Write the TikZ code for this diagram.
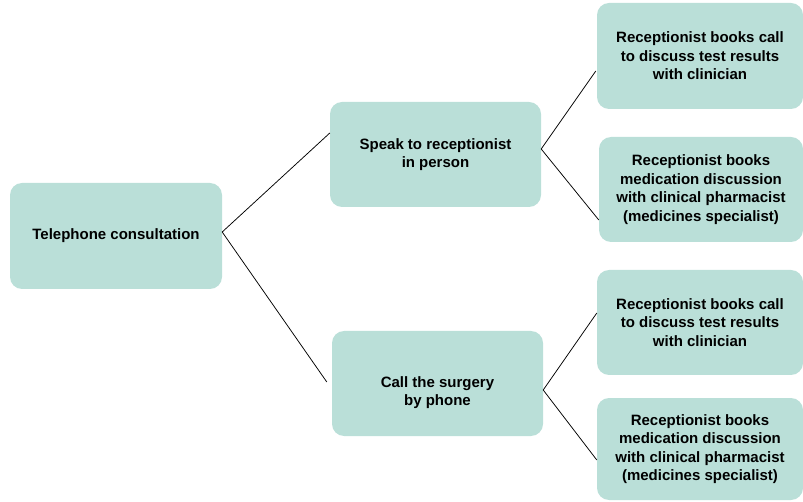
\documentclass[tikz,border=0pt]{standalone}
\usepackage{fontspec}
\setmainfont{Liberation Sans}
\definecolor{boxgreen}{RGB}{186,223,216}
\begin{document}
\begin{tikzpicture}[x=1pt,y=-1pt,
  stage/.style={fill=boxgreen,rounded corners=12pt,align=center,inner sep=0pt,
    font=\bfseries\fontsize{15}{18.5}\selectfont},
  link/.style={draw=black,line width=0.75pt}]
\useasboundingbox (0,0) rectangle (803,502);
% first column
\node[stage,minimum width=212pt,minimum height=106pt] (tel) at (116,236) {Telephone consultation};
% second column
\node[stage,minimum width=211pt,minimum height=105pt] (spk) at (435.5,154.5) {Speak to receptionist\\in person};
\node[stage,minimum width=211pt,minimum height=105pt] (call) at (437.5,383.5) {\rule{0pt}{29pt}Call the surgery\\by phone};
% third column
\node[stage,minimum width=206pt,minimum height=106pt] (bookA) at (700,56) {Receptionist books call\\to discuss test results\\with clinician};
\node[stage,minimum width=204pt,minimum height=105pt] (medA) at (701,189.5) {Receptionist books\\medication discussion\\with clinical pharmacist\\(medicines specialist)};
\node[stage,minimum width=206pt,minimum height=105pt] (bookB) at (700,322.5) {Receptionist books call\\to discuss test results\\with clinician};
\node[stage,minimum width=206pt,minimum height=102pt] (medB) at (700,449) {Receptionist books\\medication discussion\\with clinical pharmacist\\(medicines specialist)};
% connectors
\draw[link] ([yshift=4pt]tel.east) -- ([yshift=21.5pt]spk.west);
\draw[link] ([yshift=4pt]tel.east) -- ([xshift=-5pt,yshift=1.5pt]call.west);
\draw[link] ([yshift=5.5pt]spk.east) -- ([xshift=-1pt,yshift=-15pt]bookA.west);
\draw[link] ([yshift=5.5pt]spk.east) -- ([yshift=-30.5pt]medA.west);
\draw[link] ([yshift=-6.5pt]call.east) -- ([yshift=9.5pt]bookB.west);
\draw[link] ([yshift=-6.5pt]call.east) -- ([yshift=-11pt]medB.west);
\end{tikzpicture}
\end{document}
